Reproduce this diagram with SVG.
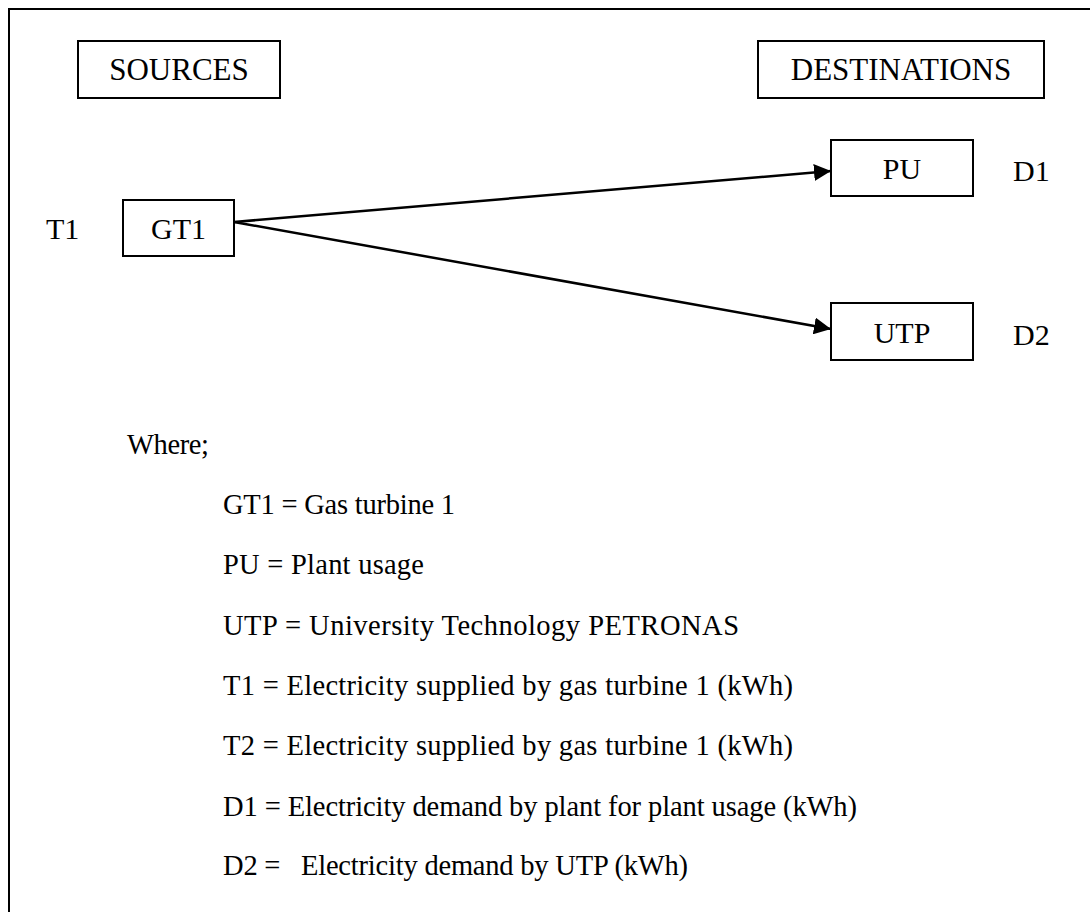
<svg xmlns="http://www.w3.org/2000/svg" width="1090" height="912" viewBox="0 0 1090 912">
  <style>
    .box { fill: #ffffff; stroke: #000000; stroke-width: 2; }
    .frame { fill: none; stroke: #000000; stroke-width: 2; }
    .lbl { font-family: "Liberation Serif", "Times New Roman", serif; fill: #000000; }
    .hdr { font-size: 31px; text-anchor: middle; }
    .node { font-size: 30px; text-anchor: middle; }
    .tag { font-size: 30px; }
    .legend { font-size: 28.5px; }
    .link { fill: none; stroke: #000000; stroke-width: 2.5; }
  </style>
  <defs>
    <marker id="arrow" viewBox="0 0 16 16" refX="16" refY="8" markerWidth="17" markerHeight="17" markerUnits="userSpaceOnUse" orient="auto">
      <path d="M0,0 L16,8 L0,16 Z" fill="#000000"/>
    </marker>
  </defs>

  <rect width="1090" height="912" fill="#ffffff"/>
  <!-- outer border, open on the right and bottom -->
  <rect class="frame" x="9" y="9" width="1100" height="960"/>

  <g id="sources-header">
    <rect class="box" x="78" y="41" width="202" height="57"/>
    <text class="lbl hdr" x="179" y="80">SOURCES</text>
  </g>
  <g id="destinations-header">
    <rect class="box" x="758" y="41" width="286" height="57"/>
    <text class="lbl hdr" x="901" y="80">DESTINATIONS</text>
  </g>

  <g id="connectors">
    <line class="link" x1="234" y1="222" x2="831" y2="171" marker-end="url(#arrow)"/>
    <line class="link" x1="234" y1="222" x2="831" y2="329" marker-end="url(#arrow)"/>
  </g>

  <g id="gt1">
    <text class="lbl tag" x="46" y="239">T1</text>
    <rect class="box" x="123" y="200" width="111" height="56"/>
    <text class="lbl node" x="178.5" y="239">GT1</text>
  </g>
  <g id="pu">
    <rect class="box" x="831" y="140" width="142" height="56"/>
    <text class="lbl node" x="902" y="179">PU</text>
    <text class="lbl tag" x="1013" y="181">D1</text>
  </g>
  <g id="utp">
    <rect class="box" x="831" y="303" width="142" height="57"/>
    <text class="lbl node" x="902" y="343">UTP</text>
    <text class="lbl tag" x="1013" y="345">D2</text>
  </g>

  <g id="legend" class="lbl legend">
    <text x="127" y="454" textLength="82">Where;</text>
    <text x="223" y="514" textLength="232">GT1 = Gas turbine 1</text>
    <text x="223" y="574" textLength="201">PU = Plant usage</text>
    <text x="223" y="635" textLength="516">UTP = University Technology PETRONAS</text>
    <text x="223" y="695" textLength="570">T1 = Electricity supplied by gas turbine 1 (kWh)</text>
    <text x="223" y="755" textLength="570">T2 = Electricity supplied by gas turbine 1 (kWh)</text>
    <text x="223" y="816" textLength="634">D1 = Electricity demand by plant for plant usage (kWh)</text>
    <text x="223" y="875" xml:space="preserve" textLength="465">D2 =   Electricity demand by UTP (kWh)</text>
  </g>
</svg>
